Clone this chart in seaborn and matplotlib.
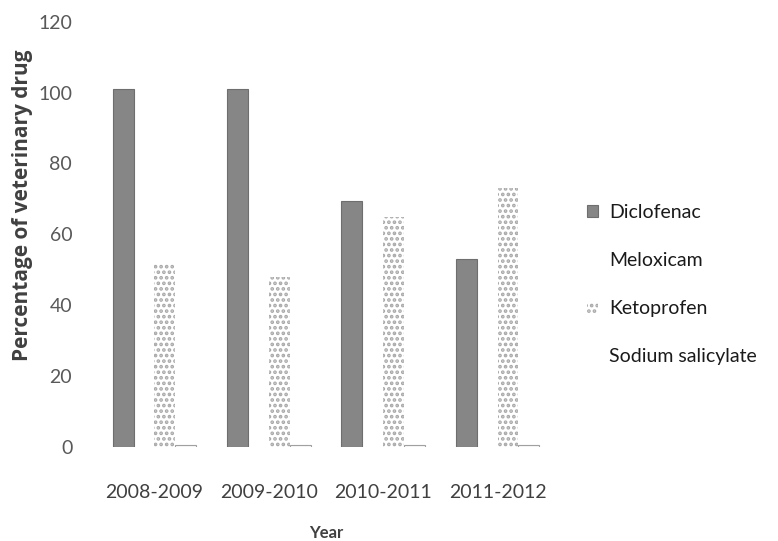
import matplotlib
matplotlib.use("Agg")
import matplotlib.pyplot as plt
from matplotlib.patches import Patch
import seaborn as sns
import pandas as pd

years = ["2008-2009", "2009-2010", "2010-2011", "2011-2012"]
drugs = ["Diclofenac", "Meloxicam", "Ketoprofen", "Sodium salicylate"]
diclofenac = [101, 101, 69.5, 53]
meloxicam = [0, 0, 0, 0]
ketoprofen = [52, 48, 65, 73]
sodium_salicylate = [0.4, 0.4, 0.4, 0.4]

rows = []
for drug, vals in zip(drugs, [diclofenac, meloxicam, ketoprofen, sodium_salicylate]):
    for yr, v in zip(years, vals):
        rows.append({"Year": yr, "Drug": drug, "Value": v})
df = pd.DataFrame(rows)

sns.set_theme(style="white")
plt.rcParams["font.family"] = ["Lato", "DejaVu Sans"]
plt.rcParams["hatch.linewidth"] = 1.8

fig = plt.figure(figsize=(7.78, 5.41), dpi=100)
ax = fig.add_axes([0.125, 0.174, 0.588, 0.786])

fills = {"Diclofenac": "#868686", "Meloxicam": "#ffffff",
         "Ketoprofen": "#ffffff", "Sodium salicylate": "#ffffff"}
sns.barplot(data=df, x="Year", y="Value", hue="Drug", hue_order=drugs,
            palette=fills, width=0.73, ax=ax, legend=False, errorbar=None,
            saturation=1)

styles = [
    dict(edgecolor="#6e6e6e", linewidth=0.8, hatch=None),
    dict(edgecolor="#ffffff", linewidth=0, hatch=None),
    dict(edgecolor="#a8a8a8", linewidth=0, hatch="..."),
    dict(edgecolor="#a0a0a0", linewidth=0.8, hatch=None),
]
for cont, st in zip(ax.containers, styles):
    for p in cont.patches:
        p.set_edgecolor(st["edgecolor"])
        p.set_linewidth(st["linewidth"])
        if st["hatch"]:
            p.set_hatch(st["hatch"])

ax.set_ylim(0, 120)
ax.set_xlim(-0.5, 3.5)
ax.set_yticks(range(0, 121, 20))
for s in ax.spines.values():
    s.set_visible(False)
ax.tick_params(axis="y", labelsize=14, labelcolor="#595959", pad=18, length=0)
ax.tick_params(axis="x", labelsize=14, labelcolor="#404040", pad=27, length=0)
ax.set_xlabel("Year", fontsize=12, fontweight="bold", color="#404040", labelpad=17)
ax.set_ylabel("Percentage of veterinary drug", fontsize=15, fontweight="bold",
              color="#404040", family=["Open Sans", "DejaVu Sans"])
ax.yaxis.set_label_coords(-0.14, 0.569)

handles = [
    Patch(facecolor="#868686", edgecolor="#6e6e6e", linewidth=0.8),
    Patch(facecolor="#ffffff", edgecolor="#ffffff", linewidth=0),
    Patch(facecolor="#ffffff", edgecolor="#a8a8a8", linewidth=0, hatch="..."),
    Patch(facecolor="#ffffff", edgecolor="#ffffff", linewidth=0),
]
fig.legend(handles=handles, labels=drugs, loc="upper left",
           bbox_to_anchor=(0.745, 0.637), frameon=False, fontsize=14,
           handlelength=0.55, handleheight=0.55, handletextpad=0.55,
           labelspacing=1.6, labelcolor="#1a1a1a", borderaxespad=0)

fig.savefig("out.png", dpi=100, facecolor="white")
